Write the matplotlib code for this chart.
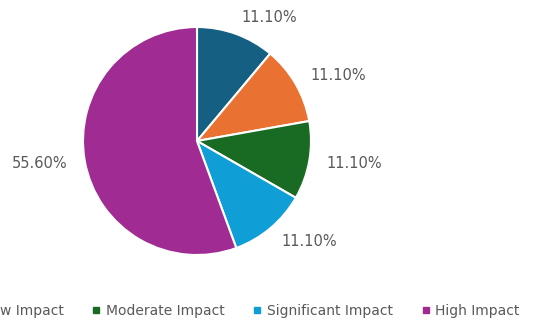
import matplotlib.pyplot as plt
from matplotlib.lines import Line2D

# ---- Data ----
CATEGORIES = ['No Impact', 'Low Impact', 'Moderate Impact', 'Significant Impact', 'High Impact']
SHARES = [11.1, 11.1, 11.1, 11.1, 55.6]
COLORS = ['#156082', '#E97132', '#196B24', '#0F9ED5', '#A02B93']

W, H = 547, 326
CENTER = (197, 185)
plt.rcParams['font.family'] = ['DejaVu Sans']

fig = plt.figure(figsize=(W / 100, H / 100), dpi=100)
ax = fig.add_axes([0, 0, 1, 1])

wedges, texts = ax.pie(
    SHARES, labels=[f'{v:.2f}%' for v in SHARES], colors=COLORS,
    startangle=90, counterclock=False, center=CENTER, radius=114,
    labeldistance=1.15, frame=True,
    wedgeprops=dict(edgecolor='white', linewidth=1.5),
    textprops=dict(fontsize=10.5, color='#595959'))
# pie picks alignment from the sign of x, not relative to the centre
for t in texts:
    t.set_ha('left' if t.get_position()[0] > CENTER[0] else 'right')

ax.set_xlim(0, W)
ax.set_ylim(0, H)
ax.axis('off')

# legend is wider than the visible crop; first entries run off the left edge
handles = [Line2D([], [], marker='s', linestyle='none', markersize=5,
                  markerfacecolor=c, markeredgecolor=c) for c in COLORS]
ax.legend(handles, CATEGORIES, ncol=5, frameon=False, loc='center left',
          bbox_to_anchor=(-144 / W, 15 / H), fontsize=10, labelcolor='#595959',
          handlelength=0.6, handletextpad=0.4, columnspacing=2.05, borderpad=0,
          borderaxespad=0)

fig.savefig('out.png', dpi=100, facecolor='white')
